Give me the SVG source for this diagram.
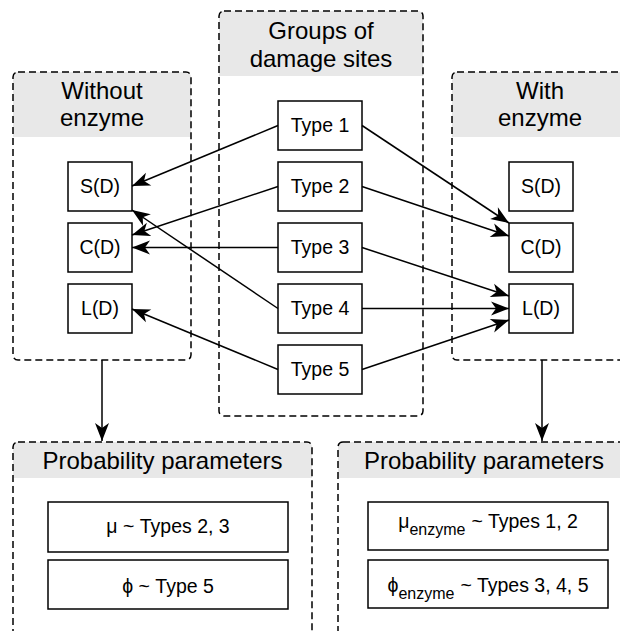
<svg xmlns="http://www.w3.org/2000/svg" width="620" height="631" viewBox="0 0 620 631">
  <style>
    text { font-family: "Liberation Sans", Arial, sans-serif; fill: #000; text-anchor: middle; }
    .hdr { font-size: 24px; }
    .lbl { font-size: 19.5px; }
    .sub { font-size: 16px; }
    .band { fill: #e8e8e8; stroke: none; }
    .edge { fill: none; stroke: #000; stroke-width: 1.5; stroke-dasharray: 7 4; }
    .box { fill: #fff; stroke: #000; stroke-width: 1.5; }
    .conn line { stroke: #000; stroke-width: 1.5; marker-end: url(#arrow); }
  </style>
  <defs>
    <marker id="arrow" markerUnits="userSpaceOnUse" markerWidth="22" markerHeight="18" refX="0" refY="0" viewBox="-20 -9 22 18" orient="auto">
      <path d="M-18,-7 L0,0 L-18,7 L-13,0 z" fill="#000"/>
    </marker>
    <clipPath id="clipL"><rect x="13" y="72" width="178" height="288" rx="5"/></clipPath>
    <clipPath id="clipC"><rect x="219" y="11" width="204" height="405" rx="5"/></clipPath>
    <clipPath id="clipR"><rect x="452" y="72" width="178" height="288" rx="5"/></clipPath>
    <clipPath id="clipBL"><rect x="13" y="442" width="299" height="200" rx="5"/></clipPath>
    <clipPath id="clipBR"><rect x="338" y="442" width="292" height="200" rx="5"/></clipPath>
  </defs>

  <rect width="620" height="631" fill="#fff"/>

  <!-- Container: without enzyme -->
  <g id="without-enzyme">
    <rect class="band" x="13" y="72" width="178" height="65" clip-path="url(#clipL)"/>
    <rect class="edge" x="13" y="72" width="178" height="288" rx="5"/>
    <text class="hdr" x="102" y="99">Without</text>
    <text class="hdr" x="102" y="126">enzyme</text>
  </g>

  <!-- Container: groups of damage sites -->
  <g id="damage-groups">
    <rect class="band" x="219" y="11" width="204" height="65" clip-path="url(#clipC)"/>
    <rect class="edge" x="219" y="11" width="204" height="405" rx="5"/>
    <text class="hdr" x="321" y="38.5">Groups of</text>
    <text class="hdr" x="321" y="66.5">damage sites</text>
  </g>

  <!-- Container: with enzyme -->
  <g id="with-enzyme">
    <rect class="band" x="452" y="72" width="178" height="65" clip-path="url(#clipR)"/>
    <rect class="edge" x="452" y="72" width="178" height="288" rx="5"/>
    <text class="hdr" x="540" y="99">With</text>
    <text class="hdr" x="540" y="126">enzyme</text>
  </g>

  <!-- Container: probability parameters (left) -->
  <g id="params-left">
    <rect class="band" x="13" y="442" width="299" height="36" clip-path="url(#clipBL)"/>
    <rect class="edge" x="13" y="442" width="299" height="200" rx="5"/>
    <text class="hdr" x="162.5" y="469">Probability parameters</text>
  </g>

  <!-- Container: probability parameters (right) -->
  <g id="params-right">
    <rect class="band" x="338" y="442" width="292" height="36" clip-path="url(#clipBR)"/>
    <rect class="edge" x="338" y="442" width="292" height="200" rx="5"/>
    <text class="hdr" x="484" y="469">Probability parameters</text>
  </g>

  <!-- Damage site types -->
  <g id="type1"><rect class="box" x="278" y="101" width="84" height="49"/><text class="lbl" x="320" y="132">Type 1</text></g>
  <g id="type2"><rect class="box" x="278" y="162" width="84" height="49"/><text class="lbl" x="320" y="193">Type 2</text></g>
  <g id="type3"><rect class="box" x="278" y="223" width="84" height="49"/><text class="lbl" x="320" y="254">Type 3</text></g>
  <g id="type4"><rect class="box" x="278" y="284" width="84" height="49"/><text class="lbl" x="320" y="315">Type 4</text></g>
  <g id="type5"><rect class="box" x="278" y="345" width="84" height="49"/><text class="lbl" x="320" y="376">Type 5</text></g>

  <!-- Outcomes without enzyme -->
  <g id="s-left"><rect class="box" x="68" y="162" width="64" height="49"/><text class="lbl" x="100" y="193">S(D)</text></g>
  <g id="c-left"><rect class="box" x="68" y="223" width="64" height="49"/><text class="lbl" x="100" y="254">C(D)</text></g>
  <g id="l-left"><rect class="box" x="68" y="284" width="64" height="49"/><text class="lbl" x="100" y="315">L(D)</text></g>

  <!-- Outcomes with enzyme -->
  <g id="s-right"><rect class="box" x="509" y="162" width="64" height="49"/><text class="lbl" x="541" y="193">S(D)</text></g>
  <g id="c-right"><rect class="box" x="509" y="223" width="64" height="49"/><text class="lbl" x="541" y="254">C(D)</text></g>
  <g id="l-right"><rect class="box" x="509" y="284" width="64" height="49"/><text class="lbl" x="541" y="315">L(D)</text></g>

  <!-- Parameter boxes -->
  <g id="mu"><rect class="box" x="48" y="502" width="240" height="50"/><text class="lbl" x="168" y="533">μ ~ Types 2, 3</text></g>
  <g id="phi"><rect class="box" x="48" y="560" width="240" height="49"/><text class="lbl" x="168" y="593">ϕ ~ Type 5</text></g>
  <g id="mu-enzyme"><rect class="box" x="368" y="502" width="240" height="48"/>
    <text class="lbl" x="488" y="528">μ<tspan class="sub" dy="7">enzyme</tspan><tspan dy="-7" dx="6">~ Types 1, 2</tspan></text></g>
  <g id="phi-enzyme"><rect class="box" x="368" y="560" width="240" height="48"/>
    <text class="lbl" x="488" y="592">ϕ<tspan class="sub" dy="7">enzyme</tspan><tspan dy="-7" dx="6">~ Types 3, 4, 5</tspan></text></g>

  <!-- Connectors -->
  <g id="connectors" class="conn">
    <line x1="278" y1="125.5" x2="132" y2="186"/>
    <line x1="278" y1="186.5" x2="132" y2="235"/>
    <line x1="278" y1="247.5" x2="132" y2="247.5"/>
    <line x1="278" y1="308.5" x2="132" y2="210"/>
    <line x1="278" y1="369.5" x2="132" y2="309"/>
    <line x1="362" y1="125.5" x2="509" y2="223"/>
    <line x1="362" y1="186.5" x2="509" y2="236"/>
    <line x1="362" y1="247.5" x2="509" y2="296"/>
    <line x1="362" y1="308.5" x2="509" y2="308.5"/>
    <line x1="362" y1="369.5" x2="509" y2="320"/>
    <line x1="102" y1="360" x2="102" y2="441"/>
    <line x1="542" y1="360" x2="542" y2="441"/>
  </g>
</svg>
